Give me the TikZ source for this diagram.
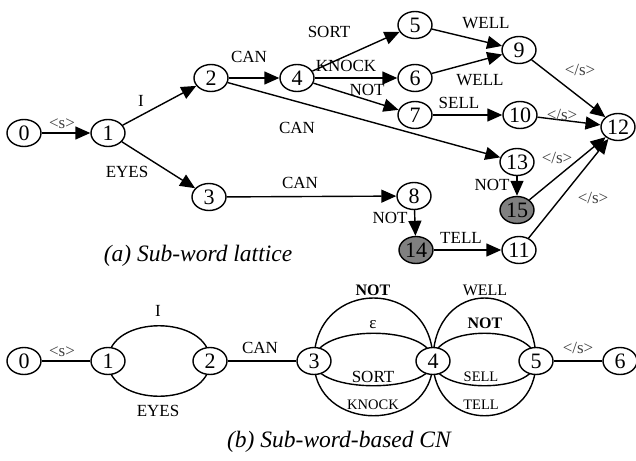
\documentclass[tikz,border=0pt]{standalone}
\usepackage{fontspec}
\setmainfont{Liberation Serif}
\usetikzlibrary{shapes.geometric,arrows.meta,backgrounds}
\begin{document}
\begin{tikzpicture}[x=1pt,y=-1pt,
  st/.style={ellipse,draw,line width=1.4pt,minimum width=34pt,minimum height=27pt,inner sep=0pt,fill=white,font=\fontsize{22}{22}\selectfont},
  gst/.style={st,fill=black!50},
  lab/.style={font=\fontsize{17}{17}\selectfont,inner sep=0pt},
  slab/.style={font=\fontsize{14.5}{14.5}\selectfont,inner sep=0pt},
  blab/.style={font=\fontsize{16}{16}\selectfont\bfseries,inner sep=0pt},
  tag/.style={font=\fontsize{17}{17}\selectfont,text=black!75,inner sep=0pt},
  arr/.style={line width=1.4pt,-{Triangle[length=15pt,width=13pt]}},
  ln/.style={line width=1.4pt},
  captext/.style={font=\fontsize{23.5}{23.5}\selectfont\itshape,inner sep=0pt}
]
\useasboundingbox (0,0) rectangle (636,460);
% ---- lattice nodes
\node[st] (l0) at (24,133) {0};
\node[st] (l1) at (108,133) {1};
\node[st] (l2) at (211,78) {2};
\node[st] (l3) at (209,197) {3};
\node[st] (l4) at (297,78) {4};
\node[st] (l5) at (415,25) {5};
\node[st] (l6) at (415,78) {6};
\node[st] (l7) at (415,115) {7};
\node[st] (l8) at (414,196) {8};
\node[st] (l9) at (519,50) {9};
\node[st] (l10) at (520,115) {10};
\node[st] (l12) at (618,127) {12};
\node[st] (l13) at (517,162) {13};
\node[gst] (l15) at (517,210) {15};
\node[gst] (l14) at (416,250) {14};
\node[st] (l11) at (519,250) {11};
% ---- lattice edges
\draw[arr] (l0) -- (l1);
\draw[arr] (l1) -- (l2);
\draw[arr] (l1) -- (l3);
\draw[arr] (l2) -- (l4);
\draw[arr] (l2) -- (l13);
\draw[arr] (l3) -- (l8);
\draw[arr] (l4) -- (l5);
\draw[arr] (l4) -- (l6);
\draw[arr] (l4) -- (l7);
\draw[arr] (l5) -- (l9);
\draw[arr] (l6) -- (l9);
\draw[arr] (l7) -- (l10);
\draw[arr] (l9) -- (l12);
\draw[arr] (l10) -- (l12);
\draw[arr] (l13) -- (l15);
\draw[arr] (l15) -- (l12);
\draw[arr] (l8) -- (l14);
\draw[arr] (l14) -- (l11);
\draw[arr] (l11) -- (l12);
% ---- lattice labels
\node[tag] (t01) at (62,124) {<s>};
\node[lab] (t12) at (141,101) {I};
\node[lab] (t13) at (127,172) {EYES};
\node[lab] (t24) at (249,57) {CAN};
\node[lab] (t213) at (297,128) {CAN};
\node[lab] (t38) at (300,183) {CAN};
\node[lab] (t45) at (329,32) {SORT};
\node[lab] (t46) at (346,66) {KNOCK};
\node[lab] (t47) at (367,90) {NOT};
\node[lab] (t59) at (486,23) {WELL};
\node[lab] (t69) at (480,80) {WELL};
\node[lab] (t710) at (459,103) {SELL};
\node[tag] (t912) at (580,70) {</s>};
\node[tag] (t1012) at (562,115) {</s>};
\node[tag] (t1512) at (557,158) {</s>};
\node[tag] (t1112) at (593,198) {</s>};
\node[lab] (t1315) at (492,185) {NOT};
\node[lab] (t814) at (390,218) {NOT};
\node[lab] (t1411) at (461,238) {TELL};
\node[captext] (capa) at (198,256) {(a) Sub-word lattice};
% ---- CN nodes
\node[st] (c0) at (24,361) {0};
\node[st] (c1) at (108,361) {1};
\node[st] (c2) at (210,361) {2};
\node[st] (c3) at (314,361) {3};
\node[st] (c4) at (433,361) {4};
\node[st] (c5) at (536,361) {5};
\node[st] (c6) at (620,361) {6};
% ---- CN edges
\begin{scope}[on background layer]
\draw[ln] (c0) -- (c1);
\draw[ln] (c2) -- (c3);
\draw[ln] (c5) -- (c6);
\draw[ln] (c1.center) .. controls +(0,-47) and +(0,-47) .. (c2.center);
\draw[ln] (c1.center) .. controls +(0,47) and +(0,47) .. (c2.center);
\draw[ln] (c3.center) .. controls +(0,-84) and +(0,-84) .. (c4.center);
\draw[ln] (c3.center) .. controls +(0,-37) and +(0,-37) .. (c4.center);
\draw[ln] (c3.center) .. controls +(0,33) and +(0,33) .. (c4.center);
\draw[ln] (c3.center) .. controls +(0,73) and +(0,73) .. (c4.center);
\draw[ln] (c4.center) .. controls +(0,-84) and +(0,-84) .. (c5.center);
\draw[ln] (c4.center) .. controls +(0,-37) and +(0,-37) .. (c5.center);
\draw[ln] (c4.center) .. controls +(0,33) and +(0,33) .. (c5.center);
\draw[ln] (c4.center) .. controls +(0,73) and +(0,73) .. (c5.center);
\end{scope}
% ---- CN labels
\node[tag] (u01) at (62,352) {<s>};
\node[lab] (u12a) at (158,311) {I};
\node[lab] (u12b) at (158,411) {EYES};
\node[lab] (u23) at (260,348) {CAN};
\node[blab] (u34a) at (373,290) {NOT};
\node[lab] (u34b) at (373,325) {ε};
\node[lab] (u34c) at (373,377) {SORT};
\node[slab] (u34d) at (373,405) {KNOCK};
\node[font=\fontsize{16}{16}\selectfont,inner sep=0pt] (u45a) at (485,290) {WELL};
\node[blab] (u45b) at (485,323) {NOT};
\node[slab] (u45c) at (481,377) {SELL};
\node[slab] (u45d) at (481,405) {TELL};
\node[tag] (u56) at (578,348) {</s>};
\node[captext] (capb) at (339,442) {(b) Sub-word-based CN};
\end{tikzpicture}
\end{document}
